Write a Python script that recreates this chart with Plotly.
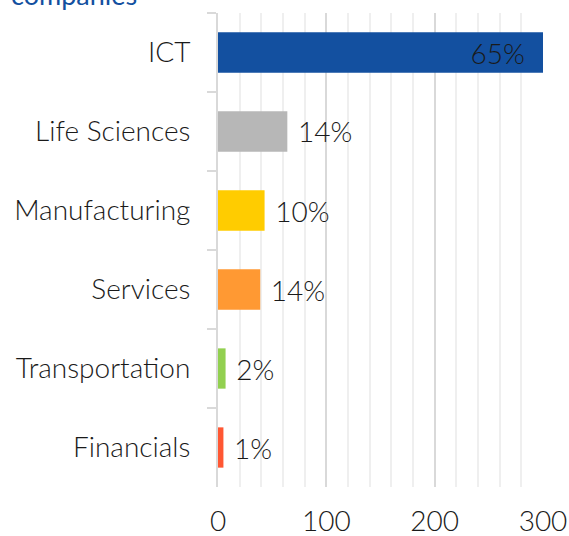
import plotly.graph_objects as go

# categories top to bottom as in the chart
sectors = ["ICT", "Life Sciences", "Manufacturing", "Services", "Transportation", "Financials"]
counts = [300, 64, 43, 39, 7, 5]
shares = ["65%", "14%", "10%", "14%", "2%", "1%"]
colors = ["#1350A0", "#B7B7B7", "#FFCC00", "#FF9933", "#92D050", "#FF5733"]
x_ticks = [0, 100, 200, 300]

FONT = "Lato"
TEXT_COLOR = "#1a1a1a"
NB = "\u00a0"

# pad the labels a bit so they sit away from the bar end like the original
labels = [shares[0] + NB * 2] + [NB + s for s in shares[1:]]

fig = go.Figure()
fig.add_trace(go.Bar(
    y=sectors,
    x=counts,
    orientation="h",
    marker=dict(color=colors, line=dict(width=0)),
    text=labels,
    textposition=["inside"] + ["outside"] * (len(sectors) - 1),
    insidetextanchor="end",
    textfont=dict(family=FONT, size=28, color=TEXT_COLOR, weight=300),
    cliponaxis=False,
    hoverinfo="skip",
))

# title line cut off by the top edge of the picture
fig.add_annotation(
    xref="paper", yref="paper", x=-0.643, y=1, xanchor="left", yanchor="bottom",
    yshift=0, text="companies", showarrow=False,
    font=dict(family=FONT, size=27, color="#1350A0"),
)

fig.update_xaxes(
    range=[0, 300],
    tickvals=x_ticks,
    showgrid=True, gridcolor="#d9d9d9", gridwidth=1.5,
    minor=dict(dtick=20, showgrid=True, gridcolor="#efefef", gridwidth=1.5),
    zeroline=False, showline=False,
    tickfont=dict(family=FONT, size=28, color=TEXT_COLOR, weight=300),
    ticks="", ticklabelstandoff=15,
    automargin=False,
)
fig.update_yaxes(
    autorange="reversed",
    showline=True, linecolor="#d9d9d9", linewidth=2,
    ticks="outside", tickson="boundaries", ticklen=9, tickcolor="#d9d9d9", tickwidth=2,
    tickfont=dict(family=FONT, size=28, color=TEXT_COLOR, weight=300),
    ticklabelstandoff=20,
    showgrid=False,
    automargin=False,
)
fig.update_layout(
    width=569, height=536,
    margin=dict(l=218, r=26, t=13, b=49),
    plot_bgcolor="white", paper_bgcolor="white",
    bargap=0.49,
    showlegend=False,
)

fig.write_html(
    "out.html",
    config={"displayModeBar": False},
    post_script="document.body.style.margin='0';",
)
